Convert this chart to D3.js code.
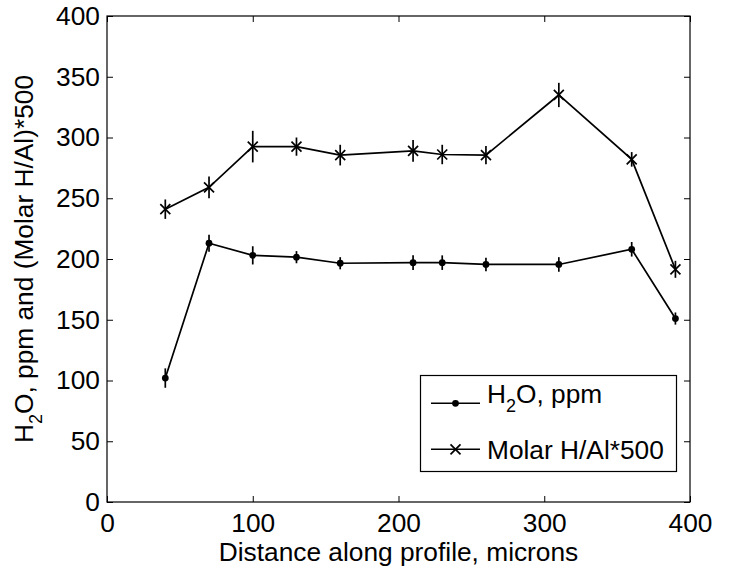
<!DOCTYPE html>
<html>
<head>
<meta charset="utf-8">
<script src="https://cdn.jsdelivr.net/npm/d3@7/dist/d3.min.js"></script>
<style>
  html, body { margin: 0; padding: 0; background: #fff; }
  svg { display: block; }
  text { font-family: "Liberation Sans", Arial, Helvetica, sans-serif; fill: #000; }
</style>
</head>
<body>
<script>
const distance = [40, 70, 100, 130, 160, 210, 230, 260, 310, 360, 390];
const h2o      = [102, 213, 203, 201.5, 196.5, 197, 197, 195.5, 195.5, 208, 151];
const h2oErr   = [8, 7, 7.5, 5, 5, 6, 6, 5.5, 6, 6, 5];
const molar    = [241, 259, 292.5, 292.5, 285.5, 289, 286, 285.5, 335, 282, 191.5];
const molarErr = [8, 9, 13, 7.5, 8.5, 9, 8, 7.5, 10, 6, 7];
const xTicks = [0, 100, 200, 300, 400];
const yTicks = [0, 50, 100, 150, 200, 250, 300, 350, 400];

const W = 731, H = 571;
const L = 107, R = 690, T = 16, B = 502;
const FS = 26.3;

const svg = d3.select("body").append("svg").attr("width", W).attr("height", H);
svg.append("rect").attr("width", W).attr("height", H).attr("fill", "#fff");

const x = d3.scaleLinear().domain([0, 400]).range([L, R]);
const y = d3.scaleLinear().domain([0, 400]).range([B, T]);

function styleAxis(g, showLabels) {
  g.select(".domain").remove();
  g.selectAll(".tick line").attr("stroke", "#000").attr("stroke-width", 1);
  g.selectAll(".tick text").attr("font-size", FS).attr("fill", "#000")
    .attr("font-family", '"Liberation Sans", Arial, sans-serif');
  if (!showLabels) g.selectAll(".tick text").remove();
}

svg.append("g").attr("transform", `translate(0,${B})`)
  .call(d3.axisBottom(x).tickValues(xTicks).tickSize(-6).tickPadding(11.5).tickFormat(d3.format("d")))
  .call(g => styleAxis(g, true));
svg.append("g").attr("transform", `translate(0,${T})`)
  .call(d3.axisTop(x).tickValues(xTicks).tickSize(-6))
  .call(g => styleAxis(g, false));
svg.append("g").attr("transform", `translate(${L},0)`)
  .call(d3.axisLeft(y).tickValues(yTicks).tickSize(-6).tickPadding(7).tickFormat(d3.format("d")))
  .call(g => styleAxis(g, true));
svg.append("g").attr("transform", `translate(${R},0)`)
  .call(d3.axisRight(y).tickValues(yTicks).tickSize(-6))
  .call(g => styleAxis(g, false));

svg.append("rect").attr("x", L).attr("y", T).attr("width", R - L).attr("height", B - T)
  .attr("fill", "none").attr("stroke", "#000").attr("stroke-width", 1.2);

const line = d3.line().x(d => x(d[0])).y(d => y(d[1]));
const h2oPts = distance.map((d, i) => [d, h2o[i], h2oErr[i]]);
const molPts = distance.map((d, i) => [d, molar[i], molarErr[i]]);

function drawSeries(pts, marker) {
  const g = svg.append("g");
  g.append("path").datum(pts).attr("d", line).attr("fill", "none")
    .attr("stroke", "#000").attr("stroke-width", 1.7);
  g.selectAll("line.err").data(pts).enter().append("line")
    .attr("x1", d => x(d[0])).attr("x2", d => x(d[0]))
    .attr("y1", d => y(d[1] - d[2])).attr("y2", d => y(d[1] + d[2]))
    .attr("stroke", "#000").attr("stroke-width", 1.7);
  pts.forEach(d => marker(g, x(d[0]), y(d[1])));
}
function dotMarker(g, cx, cy) {
  g.append("circle").attr("cx", cx).attr("cy", cy).attr("r", 3.4).attr("fill", "#000");
}
function xMarker(g, cx, cy) {
  const s = 5;
  g.append("path").attr("d", `M${cx - s},${cy - s}L${cx + s},${cy + s}M${cx - s},${cy + s}L${cx + s},${cy - s}`)
    .attr("stroke", "#000").attr("stroke-width", 1.7).attr("fill", "none");
}
drawSeries(h2oPts, dotMarker);
drawSeries(molPts, xMarker);

// Legend
const leg = svg.append("g");
leg.append("rect").attr("x", 420.5).attr("y", 375.5).attr("width", 256).attr("height", 96)
  .attr("fill", "#fff").attr("stroke", "#000").attr("stroke-width", 1.2);
leg.append("line").attr("x1", 431).attr("x2", 480).attr("y1", 403.3).attr("y2", 403.3)
  .attr("stroke", "#000").attr("stroke-width", 1.5);
dotMarker(leg, 455.5, 403.3);
const t1 = leg.append("text").attr("x", 487).attr("y", 403).attr("font-size", FS);
t1.append("tspan").text("H");
t1.append("tspan").attr("font-size", 18).attr("dy", 9).text("2");
t1.append("tspan").attr("dy", -9).text("O, ppm");
leg.append("line").attr("x1", 431).attr("x2", 480).attr("y1", 449.3).attr("y2", 449.3)
  .attr("stroke", "#000").attr("stroke-width", 1.5);
xMarker(leg, 455.5, 449.3);
leg.append("text").attr("x", 487).attr("y", 459).attr("font-size", FS).text("Molar H/Al*500");

// Axis titles
svg.append("text").attr("x", (L + R) / 2).attr("y", 561).attr("text-anchor", "middle")
  .attr("font-size", FS).text("Distance along profile, microns");
const yl = svg.append("text").attr("transform", `translate(33,${(T + B) / 2}) rotate(-90)`)
  .attr("text-anchor", "middle").attr("font-size", FS);
yl.append("tspan").text("H");
yl.append("tspan").attr("font-size", 18).attr("dy", 9).text("2");
yl.append("tspan").attr("dy", -9).text("O, ppm and (Molar H/Al)*500");
</script>
</body>
</html>
